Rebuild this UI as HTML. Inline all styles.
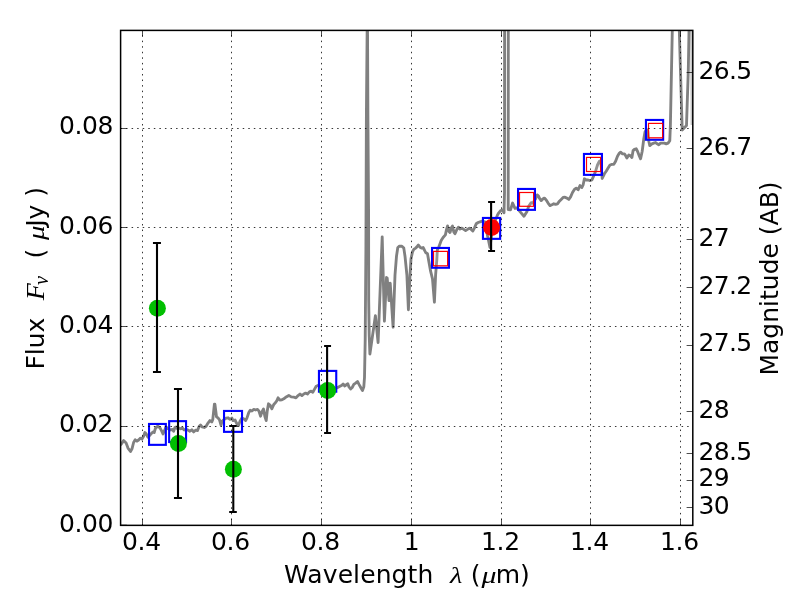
<!DOCTYPE html>
<html lang="en"><head><meta charset="utf-8"><title>SED plot</title>
<style>html,body{margin:0;padding:0;background:#fff;overflow:hidden}svg{display:block}svg{will-change:transform;opacity:.999}text{font-family:"DejaVu Sans","Liberation Sans",sans-serif;font-size:25px;fill:#000}.t{letter-spacing:-0.7px}.tl{letter-spacing:-0.4px}.tx{letter-spacing:-0.2px}.m{font-family:"Liberation Serif","DejaVu Serif",serif;font-style:italic}</style></head><body>
<svg width="800" height="600" viewBox="0 0 800 600">
<rect width="800" height="600" fill="#fff"/>
<defs><clipPath id="ax"><rect x="120.60" y="30.40" width="572.20" height="494.95"/></clipPath></defs>
<g clip-path="url(#ax)">
<polyline fill="none" stroke="#808080" stroke-width="2.85" stroke-linejoin="round" stroke-linecap="butt" points="120.5,445.2 123.6,440.6 126.1,443.1 128.0,448.1 130.5,451.5 132.0,448.8 133.6,442.5 135.2,439.8 137.0,441.2 138.6,440.0 140.5,438.1 142.0,439.0 143.6,436.2 144.9,432.5 146.1,433.8 148.0,437.2 151.1,433.8 153.0,431.9 154.2,432.5 155.5,428.1 157.8,426.2 159.9,427.8 161.5,430.6 163.0,434.0 164.5,430.6 166.1,426.9 168.0,428.8 170.5,430.0 172.4,429.4 173.6,431.2 174.9,427.5 176.1,426.9 177.4,428.8 179.2,428.1 180.5,428.8 182.4,428.1 184.2,430.0 186.1,429.4 188.0,430.0 189.9,431.2 191.8,429.8 193.6,431.9 195.5,430.2 197.4,430.6 199.2,426.2 200.5,425.0 202.0,426.9 204.2,427.5 206.1,426.2 208.0,423.1 209.9,420.6 211.8,421.9 212.8,419.4 214.4,404.2 214.9,404.2 216.5,416.8 218.0,417.9 219.5,419.8 221.0,425.0 222.1,421.2 224.0,419.5 225.9,418.2 228.1,417.8 230.0,419.4 231.9,418.1 233.1,420.6 235.0,420.0 236.9,423.8 238.5,425.6 240.0,421.2 241.9,418.1 243.8,418.8 245.6,420.6 246.9,418.1 248.8,412.5 250.2,410.2 251.9,411.0 253.8,409.4 255.6,410.0 257.5,409.4 259.0,411.2 260.6,416.2 261.9,411.9 263.5,409.0 265.0,416.9 266.2,420.6 267.2,411.2 268.5,403.8 270.0,405.0 271.9,408.8 273.8,404.4 275.6,402.5 276.9,400.6 278.1,397.8 279.8,400.0 281.9,399.8 283.8,398.8 286.2,396.9 288.8,395.4 291.2,396.9 293.8,397.2 296.0,397.8 298.1,395.6 300.0,394.0 301.9,395.6 303.8,394.0 305.6,393.1 307.5,394.0 309.4,391.9 311.2,391.2 312.8,392.2 314.4,389.4 316.2,386.2 318.4,385.2 321.2,386.5 324.4,387.5 327.5,388.5 331.2,389.0 334.4,388.5 336.6,388.1 338.1,387.2 340.0,386.2 341.9,385.2 343.1,384.0 344.8,386.0 346.2,384.8 347.8,383.8 349.0,386.9 350.6,389.0 352.2,387.5 353.8,384.4 355.6,383.1 357.5,381.5 359.0,384.4 360.6,387.2 362.5,390.6 363.8,386.9 364.5,377.5 365.2,340.0 365.9,250.0 366.4,115.0 367.2,24.0 367.5,24.0 367.9,115.0 368.6,215.0 368.7,300.0 369.2,335.0 369.9,354.0 375.4,315.6 378.1,342.5 382.2,236.9 384.4,321.2 386.5,277.5 387.2,278.1 389.0,300.6 390.2,283.1 393.1,327.2 395.0,275.0 396.5,256.2 397.8,247.5 399.4,246.2 401.9,246.2 403.8,248.1 405.0,256.2 406.9,275.0 408.4,309.8 410.0,275.0 411.0,258.8 412.5,251.9 413.8,249.4 415.6,248.1 416.9,246.9 418.4,245.0 420.0,247.2 421.5,248.1 423.1,247.5 424.4,250.0 425.6,252.5 427.5,253.8 428.8,261.2 430.6,271.2 432.5,278.8 434.4,302.2 435.6,275.0 436.8,260.0 437.3,250.2 439.0,246.5 441.2,240.5 443.1,237.5 445.4,234.9 446.4,230.0 447.6,225.9 448.8,231.2 450.0,232.5 451.5,227.5 452.5,226.0 453.8,231.9 455.0,233.8 456.9,229.4 458.5,227.2 460.0,229.0 461.9,228.1 463.8,229.4 465.6,230.6 467.5,229.4 469.4,228.1 471.2,229.4 472.8,231.0 474.4,228.1 476.2,223.8 478.1,222.5 480.0,221.9 482.2,221.2 485.0,221.9 487.6,236.0 490.0,247.5 491.4,236.0 495.0,221.2 497.5,215.0 498.8,212.8 500.6,210.6 502.5,210.0 504.0,212.8 504.5,192.5 504.6,20.0 508.3,20.0 508.2,209.6 510.5,209.8 512.6,203.0 515.0,208.4 517.0,207.8 519.8,211.4 524.0,216.2 527.0,211.4 528.8,206.0 531.2,202.7 532.7,203.2 535.6,198.8 537.2,194.9 538.4,195.8 539.4,198.1 541.2,200.6 543.1,198.8 544.4,198.1 546.2,200.0 548.1,203.1 550.0,205.6 551.9,204.8 553.8,203.8 555.6,204.4 557.5,203.8 559.4,201.2 561.2,199.4 563.1,197.5 565.0,197.2 566.9,198.1 568.8,199.4 570.6,196.9 572.5,192.5 574.4,189.4 576.2,188.1 578.1,189.8 580.0,185.6 581.9,187.5 583.1,185.0 584.4,178.8 586.2,180.0 588.1,180.0 590.0,180.6 591.9,180.0 593.8,175.6 595.6,171.2 597.5,165.0 599.4,161.2 600.8,160.6 602.2,178.5 604.4,173.8 606.2,171.2 608.1,168.1 610.0,165.0 611.9,164.4 613.8,164.4 615.6,161.2 617.5,156.2 619.4,153.1 620.6,152.2 622.5,153.8 624.4,153.8 625.6,155.6 626.9,158.1 628.8,155.0 630.2,155.6 631.9,157.5 633.1,150.6 634.4,149.4 636.2,148.8 637.5,151.2 639.4,156.2 640.6,158.8 642.2,151.2 643.8,138.8 645.0,131.9 646.5,129.4 647.8,131.2 648.8,141.2 649.8,145.6 651.9,143.8 653.8,143.1 655.6,142.5 657.2,143.8 658.8,144.8 660.6,143.1 662.5,143.1 664.4,143.1 666.2,143.8 668.1,143.1 669.8,140.6 670.4,125.0 672.5,20.0 679.0,20.0 682.2,130.0 686.5,125.6 688.3,70.0 689.2,20.0"/>
<path d="M691.1 30L691.5 125" fill="none" stroke="#808080" stroke-opacity="0.45" stroke-width="1.8"/>
<rect x="149.03" y="423.95" width="16.80" height="20.90" fill="none" stroke="#0000ff" stroke-width="2.10"/>
<rect x="169.15" y="421.15" width="16.90" height="20.90" fill="none" stroke="#0000ff" stroke-width="2.10"/>
<rect x="224.03" y="410.95" width="18.00" height="20.90" fill="none" stroke="#0000ff" stroke-width="2.10"/>
<rect x="318.95" y="370.90" width="17.30" height="20.80" fill="none" stroke="#0000ff" stroke-width="2.10"/>
<rect x="432.05" y="247.95" width="16.90" height="19.80" fill="none" stroke="#0000ff" stroke-width="2.10"/>
<rect x="482.95" y="217.95" width="17.20" height="20.90" fill="none" stroke="#0000ff" stroke-width="2.10"/>
<rect x="518.05" y="188.95" width="16.90" height="20.90" fill="none" stroke="#0000ff" stroke-width="2.10"/>
<rect x="583.95" y="153.95" width="18.00" height="20.90" fill="none" stroke="#0000ff" stroke-width="2.10"/>
<rect x="645.95" y="119.95" width="17.20" height="19.80" fill="none" stroke="#0000ff" stroke-width="2.10"/>
<rect x="433.50" y="251.40" width="14.10" height="14.40" fill="#fff" fill-opacity="0.15" stroke="#ff0000" stroke-width="1.20"/>
<rect x="519.50" y="192.50" width="14.10" height="13.80" fill="#fff" fill-opacity="0.15" stroke="#ff0000" stroke-width="1.20"/>
<rect x="586.50" y="157.40" width="14.10" height="14.10" fill="#fff" fill-opacity="0.15" stroke="#ff0000" stroke-width="1.20"/>
<rect x="648.50" y="123.40" width="14.10" height="14.40" fill="#fff" fill-opacity="0.15" stroke="#ff0000" stroke-width="1.20"/>
</g>
<g stroke="#000" stroke-width="0.8" stroke-dasharray="1.5 4.0556" fill="none">
<line x1="142.50" y1="525.50" x2="142.50" y2="30.40"/>
<line x1="231.50" y1="525.50" x2="231.50" y2="30.40"/>
<line x1="321.50" y1="525.50" x2="321.50" y2="30.40"/>
<line x1="411.50" y1="525.50" x2="411.50" y2="30.40"/>
<line x1="501.50" y1="525.50" x2="501.50" y2="30.40"/>
<line x1="590.50" y1="525.50" x2="590.50" y2="30.40"/>
<line x1="680.50" y1="525.50" x2="680.50" y2="30.40"/>
<line x1="120.50" y1="426.50" x2="692.80" y2="426.50"/>
<line x1="120.50" y1="326.50" x2="692.80" y2="326.50"/>
<line x1="120.50" y1="227.50" x2="692.80" y2="227.50"/>
<line x1="120.50" y1="128.50" x2="692.80" y2="128.50"/>
</g>
<g clip-path="url(#ax)">
<circle cx="157.40" cy="308.30" r="8.5" fill="#00bf00"/>
<circle cx="178.40" cy="443.50" r="8.5" fill="#00bf00"/>
<circle cx="233.40" cy="469.30" r="8.5" fill="#00bf00"/>
<circle cx="327.60" cy="390.45" r="8.5" fill="#00bf00"/>
<circle cx="491.60" cy="227.55" r="8.5" fill="#ff0000"/>
<path d="M157.00 242.90V372.00" stroke="#000" stroke-width="2.1" fill="none"/>
<path d="M152.95 242.90H160.95M152.95 372.00H160.95" stroke="#000" stroke-width="2.0" fill="none"/>
<path d="M178.00 389.00V498.00" stroke="#000" stroke-width="2.1" fill="none"/>
<path d="M173.95 389.00H181.95M173.95 498.00H181.95" stroke="#000" stroke-width="2.0" fill="none"/>
<path d="M233.30 425.90V512.05" stroke="#000" stroke-width="2.1" fill="none"/>
<path d="M229.20 425.90H236.80M229.20 512.05H236.80" stroke="#000" stroke-width="2.0" fill="none"/>
<path d="M327.10 346.00V433.00" stroke="#000" stroke-width="2.1" fill="none"/>
<path d="M324.10 346.00H331.05M324.10 433.00H331.05" stroke="#000" stroke-width="2.0" fill="none"/>
<path d="M491.10 202.00V251.00" stroke="#000" stroke-width="2.1" fill="none"/>
<path d="M488.10 202.00H495.05M488.10 251.00H495.05" stroke="#000" stroke-width="2.0" fill="none"/>
</g>
<g stroke="#000" fill="none">
<rect x="120.60" y="30.40" width="572.20" height="494.95" stroke-width="1.5"/>
<g stroke-width="0.7">
<path d="M142.50 525.35v-6.2M142.50 30.40v6.2"/>
<path d="M231.50 525.35v-6.2M231.50 30.40v6.2"/>
<path d="M321.50 525.35v-6.2M321.50 30.40v6.2"/>
<path d="M411.50 525.35v-6.2M411.50 30.40v6.2"/>
<path d="M501.50 525.35v-6.2M501.50 30.40v6.2"/>
<path d="M590.50 525.35v-6.2M590.50 30.40v6.2"/>
<path d="M680.50 525.35v-6.2M680.50 30.40v6.2"/>
<path d="M120.60 525.20h6.2"/>
<path d="M120.60 426.50h6.2"/>
<path d="M120.60 326.50h6.2"/>
<path d="M120.60 227.50h6.2"/>
<path d="M120.60 128.50h6.2"/>
<path d="M692.80 72.50h-6.2"/>
<path d="M692.80 148.50h-6.2"/>
<path d="M692.80 239.50h-6.2"/>
<path d="M692.80 287.50h-6.2"/>
<path d="M692.80 345.50h-6.2"/>
<path d="M692.80 411.50h-6.2"/>
<path d="M692.80 453.50h-6.2"/>
<path d="M692.80 480.50h-6.2"/>
<path d="M692.80 507.50h-6.2"/>
</g></g>
<text class="tx" x="141.50" y="550" text-anchor="middle">0.4</text>
<text class="tx" x="230.50" y="550" text-anchor="middle">0.6</text>
<text class="tx" x="320.50" y="550" text-anchor="middle">0.8</text>
<text class="tx" x="411.70" y="550" text-anchor="middle">1</text>
<text class="tx" x="500.50" y="550" text-anchor="middle">1.2</text>
<text class="tx" x="589.50" y="550" text-anchor="middle">1.4</text>
<text class="tx" x="679.50" y="550" text-anchor="middle">1.6</text>
<text class="tl" x="113.0" y="531.80" text-anchor="end">0.00</text>
<text class="tl" x="113.0" y="432.40" text-anchor="end">0.02</text>
<text class="tl" x="113.0" y="333.00" text-anchor="end">0.04</text>
<text class="tl" x="113.0" y="233.60" text-anchor="end">0.06</text>
<text class="tl" x="113.0" y="134.20" text-anchor="end">0.08</text>
<text class="t" x="698.5" y="78.53">26.5</text>
<text class="t" x="698.5" y="154.79">26.7</text>
<text class="t" x="698.5" y="245.81">27</text>
<text class="t" x="698.5" y="293.92">27.2</text>
<text class="t" x="698.5" y="351.35">27.5</text>
<text class="t" x="698.5" y="417.94">28</text>
<text class="t" x="698.5" y="459.96">28.5</text>
<text class="t" x="698.5" y="486.47">29</text>
<text class="t" x="698.5" y="513.76">30</text>
<g>
<text x="284.1" y="582.5" letter-spacing="0.1">Wavelength</text>
<text class="m" transform="translate(449.90 582.50) scale(1.140 0.960)">λ</text>
<text x="470.65" y="582.5">(</text>
<text class="m" transform="translate(481.60 582.50) scale(1.200 0.952)">μ</text>
<text x="495.7" y="582.5">m)</text>
</g>
<g transform="translate(43.9 278) rotate(-90)">
<text x="-91.55" y="0">Flux</text>
<text class="m" transform="translate(-22.26 0.00) scale(1.116 1.012)">F</text>
<text class="m" transform="translate(-6.90 3.80) scale(0.808 0.808)">ν</text>
<text x="19.4" y="0">(</text>
<text class="m" transform="translate(38.00 0.00) scale(1.160 0.936)">μ</text>
<text x="51.2" y="0">Jy )</text>
</g>
<text transform="translate(778.2 278.45) rotate(-90)" text-anchor="middle">Magnitude (AB)</text>
</svg></body></html>
